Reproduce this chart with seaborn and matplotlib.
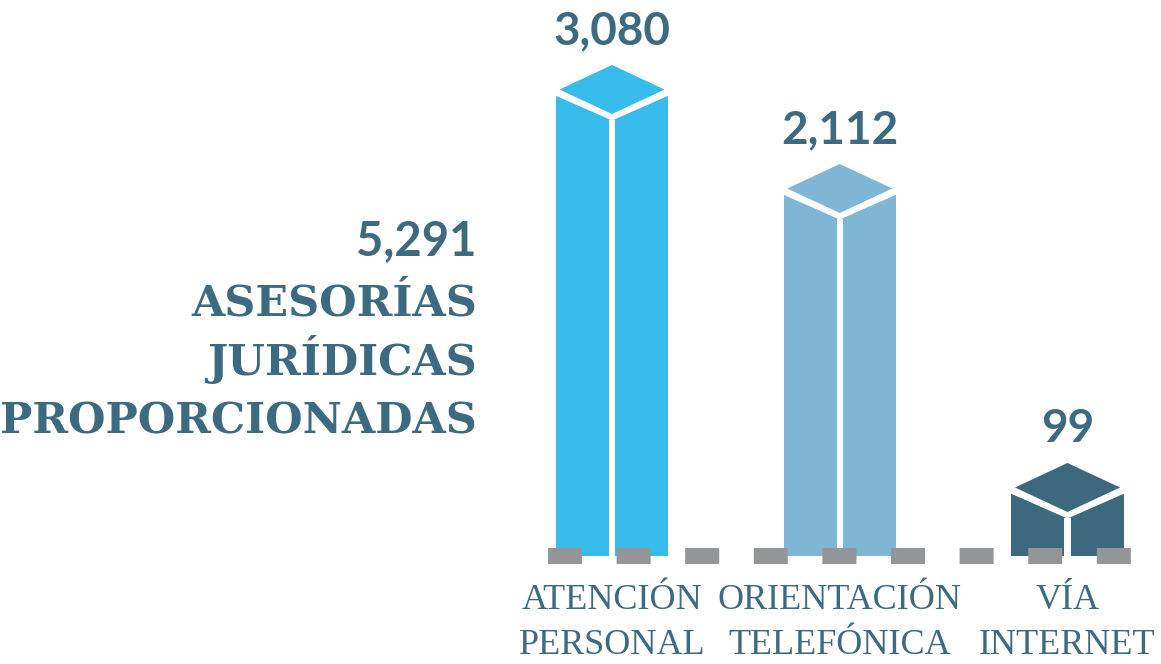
import matplotlib
matplotlib.use("Agg")
import matplotlib.pyplot as plt
from matplotlib.patches import Polygon, Rectangle
import seaborn as sns

# categories and values shown on the infographic
categories = ["ATENCIÓN\nPERSONAL", "ORIENTACIÓN\nTELEFÓNICA", "VÍA\nINTERNET"]
values = [3080, 2112, 99]
total = 5291
# drawn box heights (the infographic is not to scale)
heights = [460, 361, 62]
colors = ["#36bbeb", "#7fb6d6", "#3c697e"]
title_lines = ["ASESORÍAS", "JURÍDICAS", "PROPORCIONADAS"]

TEXT = "#3c6a80"
GRAY = "#939598"
W_PX, H_PX = 1161, 664
PX_PER_X = 227.75  # pixels per category step

sns.set_style("white")

fig = plt.figure(figsize=(W_PX / 100, H_PX / 100), dpi=100)
base = 556
ax = fig.add_axes([0, (H_PX - base) / H_PX, 1, base / H_PX])

sns.barplot(x=categories, y=heights, hue=categories, palette=colors,
            width=0.492, saturation=1, legend=False, ax=ax, linewidth=0)

ax.set_xlim(-612 / PX_PER_X, 2 + (W_PX - 1067.5) / PX_PER_X)
ax.set_ylim(0, base)
sns.despine(ax=ax, left=True, bottom=True)
ax.set_yticks([])
ax.set_ylabel("")

kx = 1 / PX_PER_X
bars = list(ax.patches)
for p, v, c in zip(bars, values, colors):
    L = p.get_x()
    R = L + p.get_width()
    H = p.get_height()
    C = (L + R) / 2
    # white notch above the slanted face tops
    ax.add_patch(Polygon([(L - 2 * kx, H + 1), (C, H - 24.5), (R + 2 * kx, H + 1),
                          (R + 2 * kx, H + 40), (L - 2 * kx, H + 40)],
                         closed=True, facecolor="white", edgecolor="none", zorder=3))
    # top face
    ax.add_patch(Polygon([(C, H + 31), (L + 3.5 * kx, H + 6.5), (C, H - 18),
                          (R - 3.5 * kx, H + 6.5)],
                         closed=True, facecolor=c, edgecolor="none", zorder=4))
    # white gap between the two side faces
    ax.add_patch(Rectangle((C - 3.1 * kx, 0), 6.2 * kx, H - 23.5,
                           facecolor="white", edgecolor="none", zorder=3))
    ax.text(C, H + 31 + 21, f"{v:,}", ha="center", va="baseline",
            fontsize=33, fontweight="bold", family="Lato", color=TEXT, zorder=5)

# dashed baseline
x0 = bars[0].get_x() - 7.5 * kx
x1 = bars[-1].get_x() + bars[-1].get_width() + 7.3 * kx
ax.plot([x0, x1], [0, 0], color=GRAY, linewidth=11.52, dashes=(2.125, 2.1625),
        dash_capstyle="butt", solid_capstyle="butt", clip_on=False, zorder=6)

ax.tick_params(axis="x", length=0, pad=20)
for lab in ax.get_xticklabels():
    lab.set_fontfamily("Liberation Serif")
    lab.set_fontsize(26)
    lab.set_color(TEXT)
    lab.set_linespacing(1.48)
    lab.set_multialignment("center")

# headline on the left
fig.text(477 / W_PX, 1 - 255 / H_PX, f"{total:,}", ha="right", va="baseline",
         fontsize=34, fontweight="bold", family="Lato", color=TEXT)
for i, line in enumerate(title_lines):
    fig.text(477 / W_PX, 1 - (316 + 59 * i) / H_PX, line, ha="right", va="baseline",
             fontsize=31, fontweight="bold", family="DejaVu Serif", color=TEXT)

fig.savefig("out.png", dpi=100, facecolor="white")
